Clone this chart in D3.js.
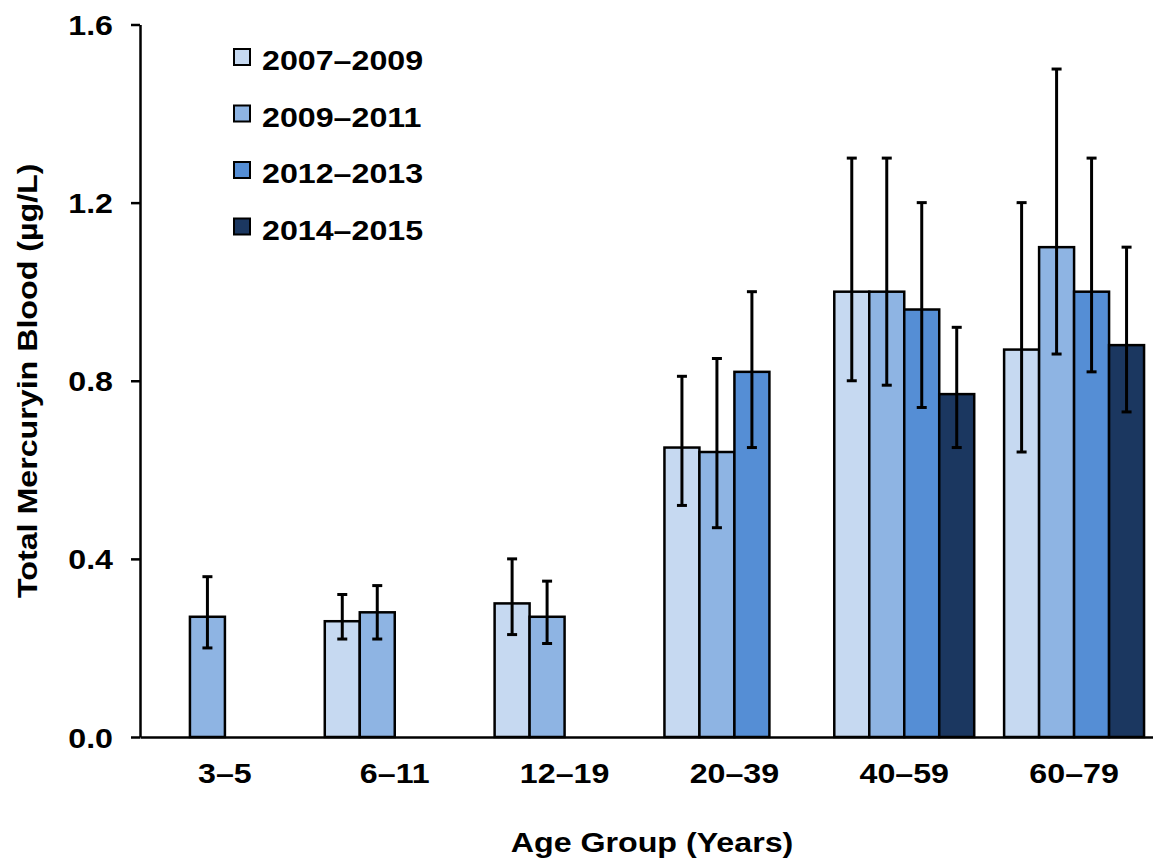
<!DOCTYPE html>
<html>
<head>
<meta charset="utf-8">
<script src="https://cdn.jsdelivr.net/npm/d3@7"></script>
<style>
  body { margin: 0; background: #fff; }
  text { font-family: "Liberation Sans", Arial, sans-serif; font-weight: bold; }
</style>
</head>
<body>
<svg id="chart" width="1153" height="860"></svg>
<script>
// age groups on the x axis
const ageGroups = ["3\u20135", "6\u201311", "12\u201319", "20\u201339", "40\u201359", "60\u201379"];
// survey periods (legend)
const periods = ["2007\u20132009", "2009\u20132011", "2012\u20132013", "2014\u20132015"];
const periodColors = ["#c6d9f1", "#8eb4e3", "#558ed5", "#1b3760"];

// geometric means per period (null = not measured)
const mean0709 = [null, 0.26, 0.30, 0.65, 1.00, 0.87];
const mean0911 = [0.27, 0.28, 0.27, 0.64, 1.00, 1.10];
const mean1213 = [null, null, null, 0.82, 0.96, 1.00];
const mean1415 = [null, null, null, null, 0.77, 0.88];

// 95% confidence limits
const low0709 = [null, 0.22, 0.23, 0.52, 0.80, 0.64];
const low0911 = [0.20, 0.22, 0.21, 0.47, 0.79, 0.86];
const low1213 = [null, null, null, 0.65, 0.74, 0.82];
const low1415 = [null, null, null, null, 0.65, 0.73];

const high0709 = [null, 0.32, 0.40, 0.81, 1.30, 1.20];
const high0911 = [0.36, 0.34, 0.35, 0.85, 1.30, 1.50];
const high1213 = [null, null, null, 1.00, 1.20, 1.30];
const high1415 = [null, null, null, null, 0.92, 1.10];

const yTicks = [0, 0.4, 0.8, 1.2, 1.6];

const means = [mean0709, mean0911, mean1213, mean1415];
const lows = [low0709, low0911, low1213, low1415];
const highs = [high0709, high0911, high1213, high1415];

// the original type looks horizontally stretched
const stretch = "scale(1.15,1)";

let svg = d3.select("#chart");

let plotLeft = 140, plotRight = 1159, plotTop = 24.5, plotBottom = 737;

let x0 = d3.scaleBand()
  .domain(ageGroups)
  .range([plotLeft, plotRight])
  .paddingInner(0.176)
  .paddingOuter(0.088);

let x1 = d3.scaleBand()
  .domain(periods)
  .range([0, x0.bandwidth()]);

let y = d3.scaleLinear()
  .domain([0, 1.6])
  .range([plotBottom, plotTop]);

// flatten into bar records
let bars = [];
ageGroups.forEach((g, i) => {
  periods.forEach((p, j) => {
    if (means[j][i] != null) {
      bars.push({group: g, period: p, idx: j, v: means[j][i], lo: lows[j][i], hi: highs[j][i]});
    }
  });
});

// bars
svg.append("g").selectAll("rect")
  .data(bars)
  .enter()
  .append("rect")
    .attr("x", d => x0(d.group) + x1(d.period))
    .attr("y", d => y(d.v))
    .attr("width", x1.bandwidth())
    .attr("height", d => y(0) - y(d.v))
    .style("fill", d => periodColors[d.idx])
    .style("stroke", "#000")
    .style("stroke-width", 2.5);

// error bars
let err = svg.append("g").selectAll("g")
  .data(bars)
  .enter()
  .append("g")
    .attr("transform", d => "translate(" + (x0(d.group) + x1(d.period) + x1.bandwidth() / 2) + ",0)");

err.append("line")
  .attr("y1", d => y(d.lo))
  .attr("y2", d => y(d.hi))
  .style("stroke", "#000")
  .style("stroke-width", 3);

err.append("line")
  .attr("x1", -5).attr("x2", 5)
  .attr("y1", d => y(d.hi)).attr("y2", d => y(d.hi))
  .style("stroke", "#000")
  .style("stroke-width", 3);

err.append("line")
  .attr("x1", -5).attr("x2", 5)
  .attr("y1", d => y(d.lo)).attr("y2", d => y(d.lo))
  .style("stroke", "#000")
  .style("stroke-width", 3);

// y axis
let gY = svg.append("g")
  .attr("transform", "translate(" + plotLeft + ",0)")
  .call(d3.axisLeft(y).tickValues(yTicks).tickFormat(d3.format(".1f")).tickSize(9).tickSizeOuter(0));
gY.select(".domain").style("stroke", "#000").style("stroke-width", 2.5);
gY.selectAll(".tick line").style("stroke", "#000").style("stroke-width", 2.5);
gY.selectAll(".tick text")
  .attr("x", -23.5)
  .attr("dy", "0.36em")
  .attr("transform", stretch)
  .style("font-size", "28px")
  .style("fill", "#000");

// x axis
let gX = svg.append("g")
  .attr("transform", "translate(0," + plotBottom + ")")
  .call(d3.axisBottom(x0).tickSize(0).tickSizeOuter(0));
gX.select(".domain").style("stroke", "#000").style("stroke-width", 2.5);
gX.selectAll(".tick text")
  .attr("y", 46)
  .attr("dy", 0)
  .attr("transform", stretch)
  .style("font-size", "28px")
  .style("fill", "#000");

// axis titles
svg.append("text")
  .attr("transform", "translate(37," + ((plotTop + plotBottom) / 2) + ") rotate(-90) " + stretch)
  .attr("text-anchor", "middle")
  .style("font-size", "28px")
  .style("fill", "#000")
  .text("Total Mercuryin Blood (\u00b5g/L)");

svg.append("text")
  .attr("transform", "translate(652,852) " + stretch)
  .attr("text-anchor", "middle")
  .style("font-size", "28px")
  .style("fill", "#000")
  .text("Age Group (Years)");

// legend
let legend = svg.append("g").selectAll("g")
  .data(periods)
  .enter()
  .append("g")
    .attr("transform", (d, i) => "translate(234," + (49 + i * 56.5) + ")");

legend.append("rect")
  .attr("width", 16)
  .attr("height", 16)
  .style("fill", (d, i) => periodColors[i])
  .style("stroke", "#000")
  .style("stroke-width", 2);

legend.append("text")
  .attr("transform", "translate(28,21) " + stretch)
  .style("font-size", "28px")
  .style("fill", "#000")
  .text(d => d);
</script>
</body>
</html>
